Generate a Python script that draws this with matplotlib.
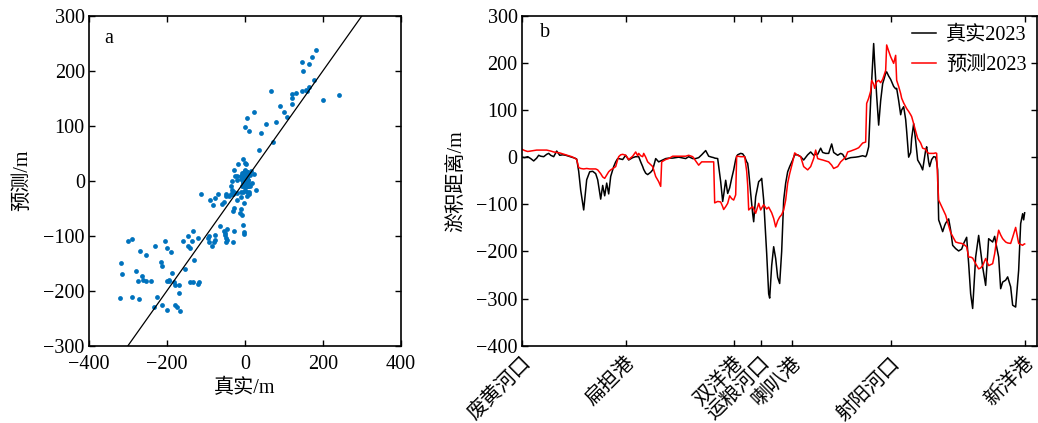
import matplotlib
matplotlib.use("Agg")
import matplotlib.pyplot as plt
import numpy as np

plt.rcParams['font.family'] = ['Liberation Serif', 'Noto Sans CJK SC']
plt.rcParams['axes.unicode_minus'] = True

# along-shore position (arbitrary units)
position = [0, 3, 6, 9, 12, 15, 17, 19, 22, 25, 27, 29, 32, 35, 38, 41, 44, 47, 50, 53, 55, 57, 59, 62,
            65, 68, 71, 74, 76, 79, 81, 83, 85, 87, 89, 92, 94, 96, 97, 99, 101, 104, 107, 111, 114, 116,
            117, 119, 121, 122, 124, 126, 129, 131, 134, 137, 139, 140, 144, 147, 151, 157, 164, 167, 171,
            174, 177, 180, 184, 187, 190, 192, 193, 196, 199, 201, 202, 204, 206, 208, 210, 212, 214, 215,
            216, 219, 221, 223, 225, 226, 227, 229, 231, 232, 234, 237, 239, 240, 242, 245, 247, 248, 250,
            252, 254, 256, 258, 260, 262, 264, 266, 268, 271, 273, 276, 279, 282, 286, 289, 292, 294, 296,
            299, 301, 304, 307, 310, 312, 316, 319, 321, 324, 326, 329, 334, 337, 341, 344, 345, 347, 349,
            350, 352, 353, 355, 357, 359, 361, 362, 364, 365, 367, 369, 372, 374, 375, 377, 379, 380, 382,
            384, 385, 387, 389, 390, 392, 394, 396, 399, 401, 404, 405, 407, 408, 410, 412, 414, 415, 416,
            417, 419, 421, 423, 424, 427, 429, 431, 434, 437, 440, 442, 445, 447, 449, 451, 454, 457, 459,
            461, 464, 467, 471, 473, 474, 477, 479, 481, 484, 486, 489, 491, 494, 497, 499, 501, 502, 503]

true_2023 = [0, -1, 1, -3, -8, -2, 4, 2, 1, 6, 8, 4, 1, 13, 4, 5, 4, 2, 0, -2, -4, -30, -70, -112,
             -48, -31, -30, -35, -48, -89, -60, -82, -55, -78, -41, -20, -10, -3, -3, -4, -5, 4, -6, -1, 1, 1,
             1, -10, -20, -26, -34, -37, -32, -27, -3, -10, -8, -7, -3, -2, -2, 0, -3, 1, -3,
             -3, -1, 5, 14, 2, 0, -1, -2, -3, -52, -94, -80, -49, -77, -65, -45, -27, -5, 2,
             5, 8, 7, 1, -10, -13, -30, -77, -120, -137, -84, -52, -48, -45, -91, -204, -290, -299, -230,
             -190, -215, -255, -268, -200, -91, -55, -31, -20, -6, 5, 5, 1, -6, 5, 11, 4, 6, 6,
             19, 10, 8, 8, 28, 10, 4, 8, 6, -5, -3, -1, 0, 1, 3, 1, 5, 22, 121,
             160, 241, 200, 130, 68, 120, 156, 163, 178, 181, 172, 165, 150, 145, 146, 120, 90, 100, 107,
             80, 55, 0, 10, 40, 71, 35, -6, -17, -27, 15, 22, -10, -20, -5, 1, 0, -10, -27,
             -133, -145, -158, -145, -140, -131, -155, -187, -194, -199, -195, -183, -170, -226, -290, -321, -212, -166, -200,
             -233, -272, -173, -180, -168, -180, -212, -279, -265, -261, -254, -275, -314, -318, -240, -141, -120, -133, -118]

pred_2023 = [17, 14, 12, 13, 14, 15, 15, 15, 15, 15, 14, 13, 11, 10, 9, 7, 5, 3, 1, -2, -5, -22, -24, -25,
             -24, -25, -25, -25, -27, -35, -42, -45, -38, -31, -27, -23, -20, -5, 1, 5, 6, 4, -5, 2, 11, 3,
             8, 3, 1, 8, 0, -10, -16, -20, -41, -52, -62, -10, -5, -3, 2, 2, 2, 4, 1,
             -8, -17, -10, -10, -10, -10, -10, -97, -94, -95, -105, -111, -105, -98, -82, -88, -91, -80, 2,
             2, 1, 1, 1, -30, -59, -112, -108, -105, -110, -119, -98, -112, -108, -101, -110, -106, -110, -118,
             -130, -148, -135, -127, -122, -112, -91, -55, -35, -10, 9, 4, 1, -20, -27, -20, -3, 15, -3,
             -5, -6, -8, -10, -17, -24, -20, -10, -6, 0, 11, 13, 17, 20, 30, 32, 114, 125, 140,
             163, 155, 146, 160, 163, 158, 165, 171, 184, 238, 225, 213, 199, 216, 163, 150, 135, 125, 115,
             107, 103, 97, 90, 86, 71, 55, 40, 30, 19, 17, 12, 8, 8, 8, 8, 9, 8, -50,
             -91, -100, -109, -118, -123, -145, -160, -168, -180, -182, -183, -185, -190, -212, -212, -214, -226, -237, -235,
             -230, -215, -230, -226, -205, -190, -155, -165, -173, -180, -182, -183, -170, -149, -183, -185, -187, -185, -184]

site_names = ['废黄河口', '扁担港', '双洋港', '运粮河口', '喇叭港', '射阳河口', '新洋港']
site_positions = [0, 104, 212, 239, 270, 369, 503]

FS = 14.5
fig = plt.figure(figsize=(10.38, 4.23), dpi=100)

tick_kw = dict(direction='in', top=True, right=True, length=4.5, width=1.0, labelsize=FS)

# ---- panel a ----
ax1 = fig.add_axes([0.0857, 0.1827, 0.3006, 0.7801])
ax1.scatter(true_2023, pred_2023, s=12, color='#0072BD', linewidths=0, zorder=2)
ax1.plot([-300, 300], [-300, 300], color='black', linewidth=0.9, zorder=3)
ax1.set_xlim(-400, 400)
ax1.set_ylim(-300, 300)
ax1.set_xticks([-400, -200, 0, 200, 400])
ax1.set_yticks([-300, -200, -100, 0, 100, 200, 300])
ax1.tick_params(**tick_kw)
ax1.tick_params(axis='x', pad=7)
ax1.tick_params(axis='y', pad=3)
ax1.set_xlabel('真实/m', fontsize=FS, labelpad=3)
ax1.set_ylabel('预测/m', fontsize=FS, labelpad=8)
ax1.text(0.048, 0.917, 'a', transform=ax1.transAxes, fontsize=FS, va='baseline')
for s in ax1.spines.values():
    s.set_linewidth(1.2)

# ---- panel b ----
ax2 = fig.add_axes([0.5026, 0.1827, 0.4961, 0.7801])
ax2.plot(position, true_2023, color='black', linewidth=1.1, label='真实2023')
ax2.plot(position, pred_2023, color='red', linewidth=1.1, label='预测2023')
ax2.set_xlim(0, 515)
ax2.set_ylim(-400, 300)
ax2.set_yticks([-400, -300, -200, -100, 0, 100, 200, 300])
ax2.set_xticks(site_positions)
ax2.set_xticklabels(site_names, rotation=45, ha='right', va='top', rotation_mode='anchor')
ax2.tick_params(**tick_kw)
ax2.tick_params(axis='x', pad=6)
ax2.tick_params(axis='y', pad=3)
ax2.set_ylabel('淤积距离/m', fontsize=FS, labelpad=7)
ax2.text(0.035, 0.935, 'b', transform=ax2.transAxes, fontsize=FS, va='baseline')
leg = ax2.legend(loc='upper right', frameon=False, fontsize=FS, handlelength=1.2,
                 handletextpad=0.5, borderaxespad=0.1, labelspacing=0.55)
for s in ax2.spines.values():
    s.set_linewidth(1.2)

fig.savefig('out.png', dpi=100)
